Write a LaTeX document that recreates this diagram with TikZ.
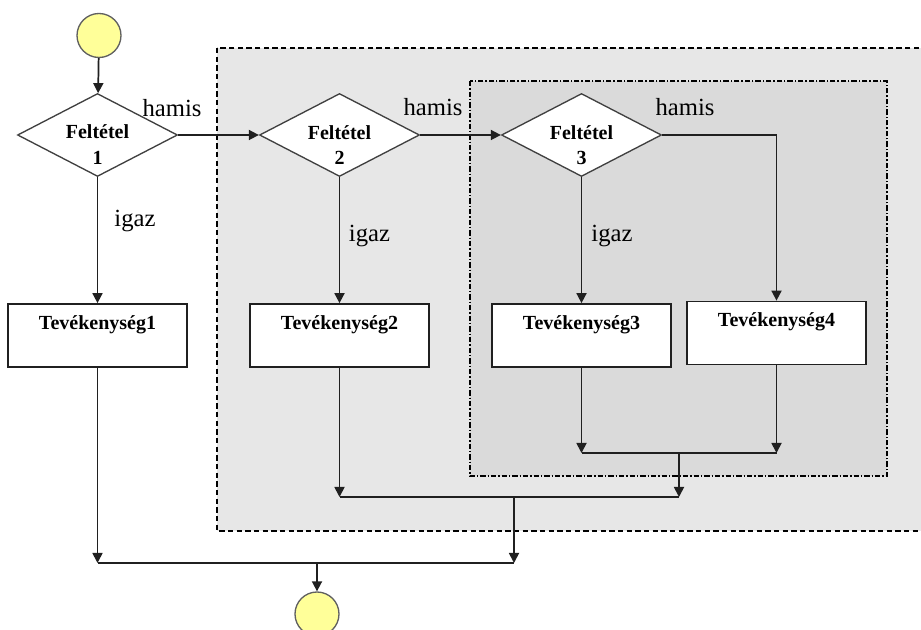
\documentclass[tikz,border=0pt]{standalone}
\usepackage{fontspec}
\setmainfont{Liberation Serif}
\usetikzlibrary{shapes.geometric,arrows.meta}
\definecolor{linegray}{HTML}{202020}
\definecolor{diagray}{HTML}{404040}
\definecolor{outerfill}{HTML}{E7E7E7}
\definecolor{innerfill}{HTML}{DADADA}
\definecolor{termfill}{HTML}{FFFF99}
\definecolor{termline}{HTML}{606060}
\tikzset{
  terminal/.style={circle,draw=termline,fill=termfill,line width=1pt,minimum size=33pt,inner sep=0pt},
  cond/.style={diamond,draw=diagray,fill=white,line width=1pt,minimum width=120pt,minimum height=62.25pt,inner sep=0pt},
  condtext/.style={font=\fontsize{15}{19}\selectfont\bfseries,align=center,inner sep=0pt},
  actbox/.style={rectangle,draw=linegray,fill=white,line width=1.3pt,minimum width=134.25pt,minimum height=47.25pt,inner sep=0pt},
  acttext/.style={font=\fontsize{15}{18}\selectfont\bfseries,inner sep=0pt},
  lbl/.style={font=\fontsize{18.5}{22}\selectfont,inner sep=0pt},
  wire/.style={draw=linegray,line width=1.3pt},
  arr/.style={wire,-{Triangle[length=7.5pt,width=7.5pt]}},
  outerbox/.style={draw=black,fill=outerfill,line width=1pt,dash pattern=on 4pt off 2.5pt},
  innerbox/.style={draw=black,fill=innerfill,line width=1pt,dash pattern=on 4pt off 1.5pt on 1pt off 1.5pt}
}
\begin{document}
\begin{tikzpicture}[x=0.75pt,y=-0.75pt]
  \useasboundingbox (0,0) rectangle (921,630);
  \clip (0,0) rectangle (921,630);

  % nested grey regions
  \path[outerbox] (217,48) rectangle (930,531);
  \path[innerbox] (470,81) rectangle (887,476);

  % terminals
  \node[terminal] (s) at (99,35.5) {};
  \node[terminal] (e) at (317,614) {};

  % conditions
  \node[cond] (c1) at (97.5,135) {};
  \node[cond] (c2) at (339.5,135) {};
  \node[cond] (c3) at (581.5,135) {};
  \node[condtext] at (97.5,144.5) {Feltétel\\1};
  \node[condtext] at (339.5,145) {Feltétel\\2};
  \node[condtext] at (581.5,145) {Feltétel\\3};

  % activities
  \node[actbox] (t1) at (97.5,335.5) {};
  \node[actbox] (t2) at (339.5,335.5) {};
  \node[actbox] (t3) at (581.5,335.5) {};
  \node[actbox] (t4) at (776.5,333) {};
  \node[acttext] at (97.5,325) {Tevékenység1};
  \node[acttext] at (339.5,325) {Tevékenység2};
  \node[acttext] at (581.5,325) {Tevékenység3};
  \node[acttext] at (776.5,322) {Tevékenység4};

  % branch labels
  \node[lbl] at (172,108) {hamis};
  \node[lbl] at (433,107.5) {hamis};
  \node[lbl] at (685,107.5) {hamis};
  \node[lbl] at (135,221) {igaz};
  \node[lbl] at (369.5,236.5) {igaz};
  \node[lbl] at (612,236.5) {igaz};

  % junction points
  \coordinate (j3) at (679,453);
  \coordinate (j2) at (514,497);
  \coordinate (j1) at (317,563);

  % flow
  \draw[arr] (s) -- (c1);
  \draw[arr] (c1.east) -- (c2.west);
  \draw[arr] (c2.east) -- (c3.west);
  \draw[arr] (c3.east) -| (t4.north);
  \draw[arr] (c1.south) -- (t1.north);
  \draw[arr] (c2.south) -- (t2.north);
  \draw[arr] (c3.south) -- (t3.north);

  \draw[arr] (t3.south) -- (t3.south |- j3);
  \draw[arr] (t4.south) -- (t4.south |- j3);
  \draw[wire] (t3.south |- j3) -- (t4.south |- j3);
  \draw[arr] (j3) -- (j3 |- j2);
  \draw[arr] (t2.south) -- (t2.south |- j2);
  \draw[wire] (t2.south |- j2) -- (j3 |- j2);
  \draw[arr] (j2) -- (j2 |- j1);
  \draw[arr] (t1.south) -- (t1.south |- j1);
  \draw[wire] (t1.south |- j1) -- (j2 |- j1);
  \draw[arr] (j1) -- (e);
\end{tikzpicture}
\end{document}
